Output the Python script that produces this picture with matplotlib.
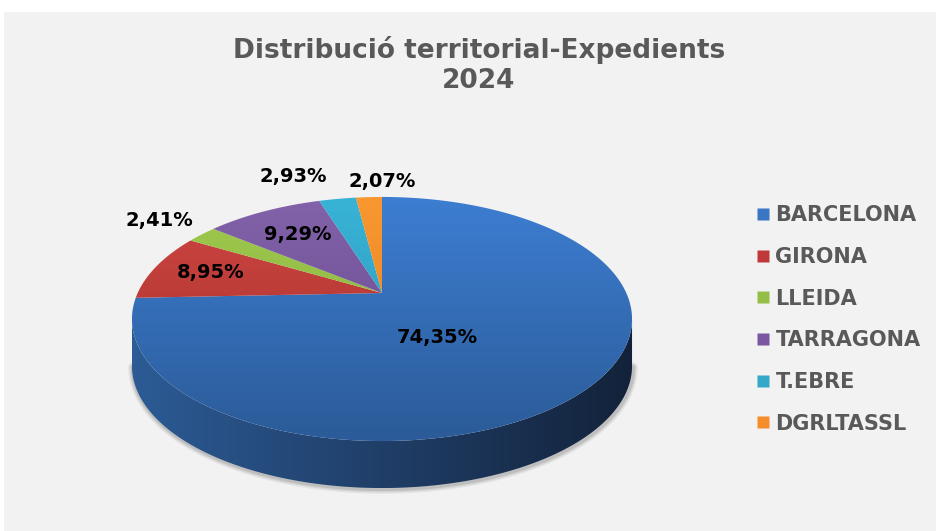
import numpy as np
import matplotlib
matplotlib.use('Agg')
import matplotlib.pyplot as plt
from matplotlib.patches import Polygon, Rectangle
from matplotlib.lines import Line2D
from matplotlib.colors import LinearSegmentedColormap

# ---------------- data ----------------
categories = ['BARCELONA', 'GIRONA', 'LLEIDA', 'TARRAGONA', 'T.EBRE', 'DGRLTASSL']
values = [74.35, 8.95, 2.41, 9.29, 2.93, 2.07]
value_labels = ['74,35%', '8,95%', '2,41%', '9,29%', '2,93%', '2,07%']
title = 'Distribució territorial-Expedients\n2024'

# ---------------- style ----------------
top_light = ['#3d7ed2', '#cf4642', '#9fcb4e', '#8262aa', '#38b3d6', '#f99831']
top_dark = ['#2b5b98', '#a32f2b', '#84a83b', '#65488a', '#2b94b4', '#e07e1e']
side_light = ['#2c5b95', '#8a2724', '#6d8d30', '#553c75', '#237c97', '#c46b17']
side_dark = ['#13223a', '#4a1513', '#3b4c1a', '#2e2040', '#134352', '#6a3a0c']
legend_colors = ['#3a76c4', '#c0393a', '#94be45', '#7a57a0', '#33a8c8', '#f58e2a']

W, H = 936, 531
CX, CY = 382, 293          # apex of the pie (projected centre)
A, B, K = 244.3, 116.5, 0.213   # perspective projection params
DEPTH = 47
label_r = [0.3, 0.75, 1.27, 0.68, 1.3, 1.2]
label_off = [(0, 19), (0, 0), (0, 0), (0, 0), (-34, 0), (15, 0)]

fig = plt.figure(figsize=(W / 100, H / 100), dpi=100)
fig.patch.set_facecolor('white')
ax = fig.add_axes([0, 0, 1, 1])
ax.set_xlim(0, W)
ax.set_ylim(H, 0)
ax.axis('off')
ax.add_patch(Rectangle((4, 12), W - 4, H - 12, facecolor='#f2f2f2',
                       edgecolor='none', zorder=0))


def proj(theta, r=1.0):
    u = r * np.cos(theta)
    v = r * np.sin(theta)
    w = 1 + K * v
    return CX + A * u / w, CY - B * v / w


def gradient_fill(poly_xy, c0, c1, direction, zorder, bbox):
    patch = Polygon(poly_xy, closed=True, facecolor='none', edgecolor='none',
                    zorder=zorder)
    ax.add_patch(patch)
    cmap = LinearSegmentedColormap.from_list('g', [c0, c1])
    x0, x1, y0, y1 = bbox
    g = np.linspace(0, 1, 256)
    if direction == 'v':
        arr = g[:, None] * np.ones((1, 4))
    else:
        arr = np.ones((4, 1)) * g[None, :]
    im = ax.imshow(arr, cmap=cmap, extent=(x0, x1, y1, y0), origin='upper',
                   aspect='auto', zorder=zorder, interpolation='bilinear')
    im.set_clip_path(patch)


fracs = np.array(values) / np.sum(values)
cum = np.concatenate([[0], np.cumsum(fracs)])
th_start = np.pi / 2 - 2 * np.pi * cum[:-1]
th_end = np.pi / 2 - 2 * np.pi * cum[1:]

# overall pie bbox
tt = np.linspace(0, 2 * np.pi, 720)
ex, ey = proj(tt)
xmin, xmax = ex.min(), ex.max()
ymin, ymax = ey.min(), ey.max()

# soft shadow under the base
front_lo = np.pi + np.arcsin(K)
front_hi = 2 * np.pi - np.arcsin(K)
ft = np.linspace(front_lo, front_hi, 300)
fx, fy = proj(ft)
for lw, al in [(7, 0.05), (5, 0.07), (3, 0.10)]:
    ax.plot(fx + 1, fy + DEPTH + 1, color='black', lw=lw, alpha=al, zorder=1,
            solid_capstyle='round')

# side walls
for i in range(len(values)):
    lo, hi = th_end[i], th_start[i]
    for shift in (-2 * np.pi, 0, 2 * np.pi):
        a0 = max(lo + shift, front_lo)
        a1 = min(hi + shift, front_hi)
        if a1 > a0:
            t = np.linspace(a0, a1, 300)
            sx, sy = proj(t)
            poly = np.column_stack([np.concatenate([sx, sx[::-1]]),
                                    np.concatenate([sy, sy[::-1] + DEPTH])])
            gradient_fill(poly, side_light[i], side_dark[i], 'h', 2,
                          (xmin, xmax, ymin, ymax + DEPTH))

# top faces
for i in range(len(values)):
    t = np.linspace(th_start[i], th_end[i], 300)
    wx, wy = proj(t)
    poly = np.column_stack([np.concatenate([[CX], wx]),
                            np.concatenate([[CY], wy])])
    gradient_fill(poly, top_light[i], top_dark[i], 'v', 3,
                  (xmin, xmax, ymin, ymax))

# value labels
for i, lab in enumerate(value_labels):
    mid = (th_start[i] + th_end[i]) / 2
    lx, ly = proj(mid, label_r[i])
    ax.text(lx + label_off[i][0], ly + label_off[i][1], lab, ha='center',
            va='center', fontsize=14, fontweight='bold', color='black',
            zorder=5)

# title
ax.text(479, 65, title, ha='center', va='center', fontsize=19,
        fontweight='bold', color='#595959', linespacing=1.18, zorder=5)

# legend
handles = [Line2D([], [], marker='s', linestyle='none', markersize=8.6,
                  markerfacecolor=c, markeredgecolor='none')
           for c in legend_colors]
leg = ax.legend(handles, categories, loc='upper left',
                bbox_to_anchor=(748, 197), bbox_transform=ax.transData,
                frameon=False, handlelength=0.62, handletextpad=0.3,
                labelspacing=1.04, borderaxespad=0,
                prop={'weight': 'bold', 'size': 15})
for txt in leg.get_texts():
    txt.set_color('#595959')

ax.set_xlim(0, W)
ax.set_ylim(H, 0)
fig.savefig('out.png', dpi=100, facecolor='white')
